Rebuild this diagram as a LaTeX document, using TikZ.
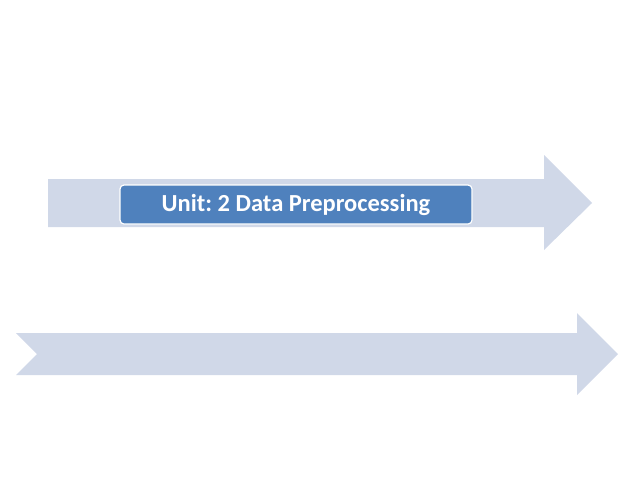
\documentclass[tikz,border=0pt]{standalone}
\usepackage{fontspec}
\setmainfont{Carlito}
\definecolor{arrowfill}{HTML}{D0D8E8}
\definecolor{boxfill}{HTML}{4F81BD}
\begin{document}
\frenchspacing
\begin{tikzpicture}[x=1pt,y=-1pt,
  arrowshape/.style={fill=arrowfill,draw=none},
  unitbox/.style={draw=white,line width=1.2pt,fill=boxfill,rounded corners=4pt,text=white,font=\fontsize{24.5}{28}\selectfont\bfseries,minimum width=352pt,minimum height=39pt,inner sep=0pt}]
\useasboundingbox (0,0) rectangle (640,480);
\fill[arrowshape] (48,179) -- (544,179) -- (544,155) -- (592,203) -- (544,250) -- (544,227) -- (48,227) -- cycle;
\fill[arrowshape] (16,333) -- (577,333) -- (577,313) -- (618,354) -- (577,395) -- (577,375) -- (16,375) -- (37,354) -- cycle;
\node[unitbox] (unit) at (296,204.5) {Unit: 2 Data Preprocessing};
\end{tikzpicture}
\end{document}
